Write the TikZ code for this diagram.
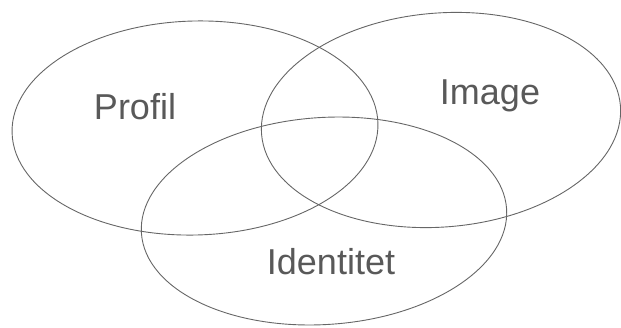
\documentclass[tikz,border=0pt]{standalone}
\usepackage{fontspec}
\setmainfont{Liberation Sans}
\usetikzlibrary{shapes.geometric}
\tikzset{
  circ/.style={ellipse,draw=black!60,line width=0.9pt,inner sep=0pt,outer sep=0pt},
  lbl/.style={text=black!65,font=\fontsize{36}{40}\selectfont,inner sep=0pt}
}
\begin{document}
\begin{tikzpicture}[x=1pt,y=-1pt]
\useasboundingbox (0,0) rectangle (621,327);
\node[circ,minimum width=366pt,minimum height=214pt,rotate=1.5] (profil) at (195,128) {};
\node[circ,minimum width=360pt,minimum height=214pt,rotate=4.5] (image) at (441,120) {};
\node[circ,minimum width=366pt,minimum height=207pt,rotate=3.8] (ident) at (324,221) {};
\node[lbl] (tprofil) at (135,107) {Profil};
\node[lbl] (timage) at (490,96) {Image};
\node[lbl] (tident) at (331,262) {Identitet};
\end{tikzpicture}
\end{document}
